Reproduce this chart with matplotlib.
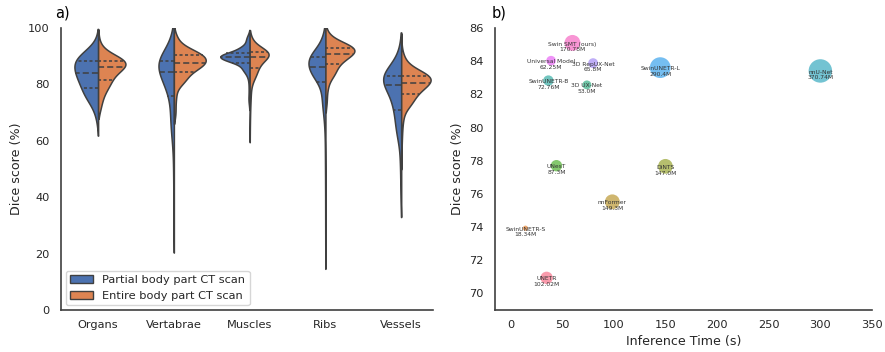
import numpy as np
import matplotlib
matplotlib.use("Agg")
import matplotlib.pyplot as plt
from matplotlib.patches import Patch
import seaborn as sns

# ---------------- data: panel a (Dice score quantiles per group) ----------------
categories = ["Organs", "Vertabrae", "Muscles", "Ribs", "Vessels"]
hue_labels = ["Partial body part CT scan", "Entire body part CT scan"]
levels = [0, 1, 2, 5, 10, 15, 25, 35, 50, 65, 75, 85, 90, 95, 98, 99, 100]

organs_partial = [65, 68, 70, 73, 75, 76.5, 78.8, 81.5, 84.0, 86.5, 88.3, 89.5, 90.3, 91.5, 93, 94, 96.5]
organs_entire = [70, 71, 72.5, 75, 77.5, 79.5, 81.6, 84, 86.0, 87.4, 88.3, 89.3, 90, 91.2, 93, 94.5, 97.3]
vertebrae_partial = [24.5, 33, 42, 55, 63, 68.5, 75.9, 80.5, 84.3, 87, 88.3, 90, 91.3, 93.5, 96.5, 98, 99.8]
vertebrae_entire = [68, 70, 73, 77.5, 80.5, 82.3, 84.5, 86.3, 87.7, 89.3, 90.3, 91.5, 92.3, 93.8, 95.8, 97, 98.5]
muscles_partial = [72, 74.5, 76, 81.5, 84.3, 85.8, 87.7, 88.7, 89.6, 90.4, 91.0, 92.2, 93.2, 94.8, 96.3, 97.2, 98.2]
muscles_entire = [61.4, 68, 73, 78, 81.5, 83.5, 85.7, 87.8, 89.6, 90.7, 91.4, 92.2, 92.8, 94, 95.5, 96.5, 97.3]
ribs_partial = [17.5, 30, 45, 62, 70.5, 75, 80.9, 83.5, 86.0, 88.3, 89.6, 91.2, 92.5, 94.5, 97, 98.5, 99.8]
ribs_entire = [72, 74, 77, 80.5, 83, 84.8, 87.1, 89.2, 90.8, 92.2, 93.0, 93.9, 94.5, 95.5, 97, 98, 99.5]
vessels_partial = [37, 42, 48, 56, 62, 66, 70.9, 75.5, 79.7, 82, 83.0, 84.5, 85.7, 88, 91, 93, 94.4]
vessels_entire = [52, 60, 65, 70, 72.5, 74.5, 76.7, 78.8, 80.5, 82.2, 83.0, 84.3, 85.3, 87, 89.5, 91, 96]
partial_counts = [439, 345, 205, 295, 385]
entire_counts = [340, 380, 197, 322, 374]

# ---------------- data: panel b ----------------
models = ["UNETR", "SwinUNETR-S", "nnFormer", "DiNTS", "UNesT", "3D UX-Net",
          "SwinUNETR-B", "nnU-Net", "SwinUNETR-L", "3D RepUX-Net", "Universal Model",
          "Swin SMT (ours)"]
inference_time = [35, 14.5, 98.6, 150, 44.5, 74, 36.7, 300, 145, 80, 39.3, 60]
dice_score = [70.94, 73.93, 75.52, 77.66, 77.70, 82.57, 82.83, 83.41, 83.61, 83.88, 84.03, 85.1]
params_m = [102.02, 18.34, 149.3, 147.0, 87.3, 53.0, 72.76, 370.74, 290.4, 65.8, 62.25, 170.78]
params_lbl = ["102.02M", "18.34M", "149.3M", "147.0M", "87.3M", "53.0M", "72.76M",
              "370.74M", "290.4M", "65.8M", "62.25M", "170.78M"]

# ---------------- style ----------------
sns.set_theme(style="white")
plt.rcParams["font.family"] = ["DejaVu Sans"]
TXT = "0.15"
EDGE = "0.25"
blue, orange = "#4c72b0", "#dd8452"

fig = plt.figure(figsize=(8.85, 3.52), dpi=100)
axa = fig.add_axes([0.0689, 0.1193, 0.4204, 0.8012])
axb = fig.add_axes([0.5593, 0.1193, 0.4260, 0.8012])


def weighted_kde(q, lv, grid, base_bw, alpha=0.8):
    q = np.asarray(q, float)
    lv = np.asarray(lv, float) / 100.0
    w = np.empty_like(lv)
    w[1:-1] = (lv[2:] - lv[:-2]) / 2
    w[0] = (lv[1] - lv[0]) / 2
    w[-1] = (lv[-1] - lv[-2]) / 2
    sp = np.empty_like(q)
    sp[1:-1] = (q[2:] - q[:-2]) / 2
    sp[0] = q[1] - q[0]
    sp[-1] = q[-1] - q[-2]
    bw = np.maximum(base_bw, alpha * sp)
    z = (grid[None, :] - q[:, None]) / bw[:, None]
    return (w[:, None] * np.exp(-0.5 * z ** 2) / (bw[:, None] * np.sqrt(2 * np.pi))).sum(0)


groups = [(organs_partial, organs_entire), (vertebrae_partial, vertebrae_entire),
          (muscles_partial, muscles_entire), (ribs_partial, ribs_entire),
          (vessels_partial, vessels_entire)]
counts = list(zip(partial_counts, entire_counts))
BW_FACTOR = 0.45
CUT = 1.0
HALF = 0.42

dens = []
for gi, pair in enumerate(groups):
    row = []
    for hi, q in enumerate(pair):
        q25, q75 = q[levels.index(25)], q[levels.index(75)]
        bw = BW_FACTOR * (q75 - q25) / 1.349
        grid = np.linspace(min(q) - CUT * bw, max(q) + CUT * bw, 600)
        d = weighted_kde(q, levels, grid, bw) * counts[gi][hi]
        row.append((grid, d, q))
    dens.append(row)
dmax = max(d.max() for row in dens for (_, d, _) in row)

for gi, row in enumerate(dens):
    for hi, (grid, d, q) in enumerate(row):
        hw = HALF * d / dmax
        sign = -1 if hi == 0 else 1
        col = blue if hi == 0 else orange
        axa.fill_betweenx(grid, gi, gi + sign * hw, facecolor=col, edgecolor=EDGE,
                          linewidth=1.1, zorder=2)
        for lvl, dash in ((25, (2.0, 1.6)), (50, (4.0, 2.0)), (75, (2.0, 1.6))):
            v = q[levels.index(lvl)]
            w = np.interp(v, grid, hw)
            axa.plot([gi, gi + sign * w], [v, v], color=EDGE, lw=1.1,
                     dashes=dash, zorder=3, solid_capstyle="butt")

axa.set_xlim(-0.49, 4.42)
axa.set_ylim(0, 100)
axa.set_xticks(range(len(categories)))
axa.set_xticklabels(categories)
axa.set_yticks([0, 20, 40, 60, 80, 100])
axa.set_ylabel("Dice score (%)", fontsize=9.1, color=TXT)
axa.legend(handles=[Patch(facecolor=blue, edgecolor=EDGE, lw=1.0, label=hue_labels[0]),
                    Patch(facecolor=orange, edgecolor=EDGE, lw=1.0, label=hue_labels[1])],
           loc="lower left", fontsize=8.2, frameon=True, edgecolor="0.8",
           borderaxespad=0.4)

# ---------------- panel b ----------------
pal = sns.color_palette("husl", len(models))
axb.scatter(inference_time, dice_score, s=np.array(params_m) * 0.77, c=pal,
            alpha=0.7, linewidths=0, zorder=2)
for name, x, y, lbl in zip(models, inference_time, dice_score, params_lbl):
    axb.annotate(name + "\n" + lbl, (x, y), xytext=(0, 1.0), textcoords="offset points",
                 ha="center", va="top", fontsize=4.3, color="0.2", zorder=3,
                 linespacing=1.15)
axb.set_xlim(-15, 350)
axb.set_ylim(69, 86)
axb.set_xticks(np.arange(0, 351, 50))
axb.set_yticks(np.arange(70, 87, 2))
axb.set_xlabel("Inference Time (s)", fontsize=9.1, color=TXT)
axb.set_ylabel("Dice score (%)", fontsize=9.1, color=TXT)

for ax in (axa, axb):
    for s in ("top", "right"):
        ax.spines[s].set_visible(False)
    for s in ("left", "bottom"):
        ax.spines[s].set_color(EDGE)
        ax.spines[s].set_linewidth(1.2)
    ax.tick_params(axis="both", length=0, labelsize=8.2, labelcolor=TXT)
    ax.tick_params(axis="y", pad=8)
    ax.tick_params(axis="x", pad=7)

fig.text(0.062, 0.963, "a)", fontsize=10.5, color="black", va="center", ha="left")
fig.text(0.556, 0.963, "b)", fontsize=10.5, color="black", va="center", ha="left")

fig.savefig("out.png", dpi=100)
